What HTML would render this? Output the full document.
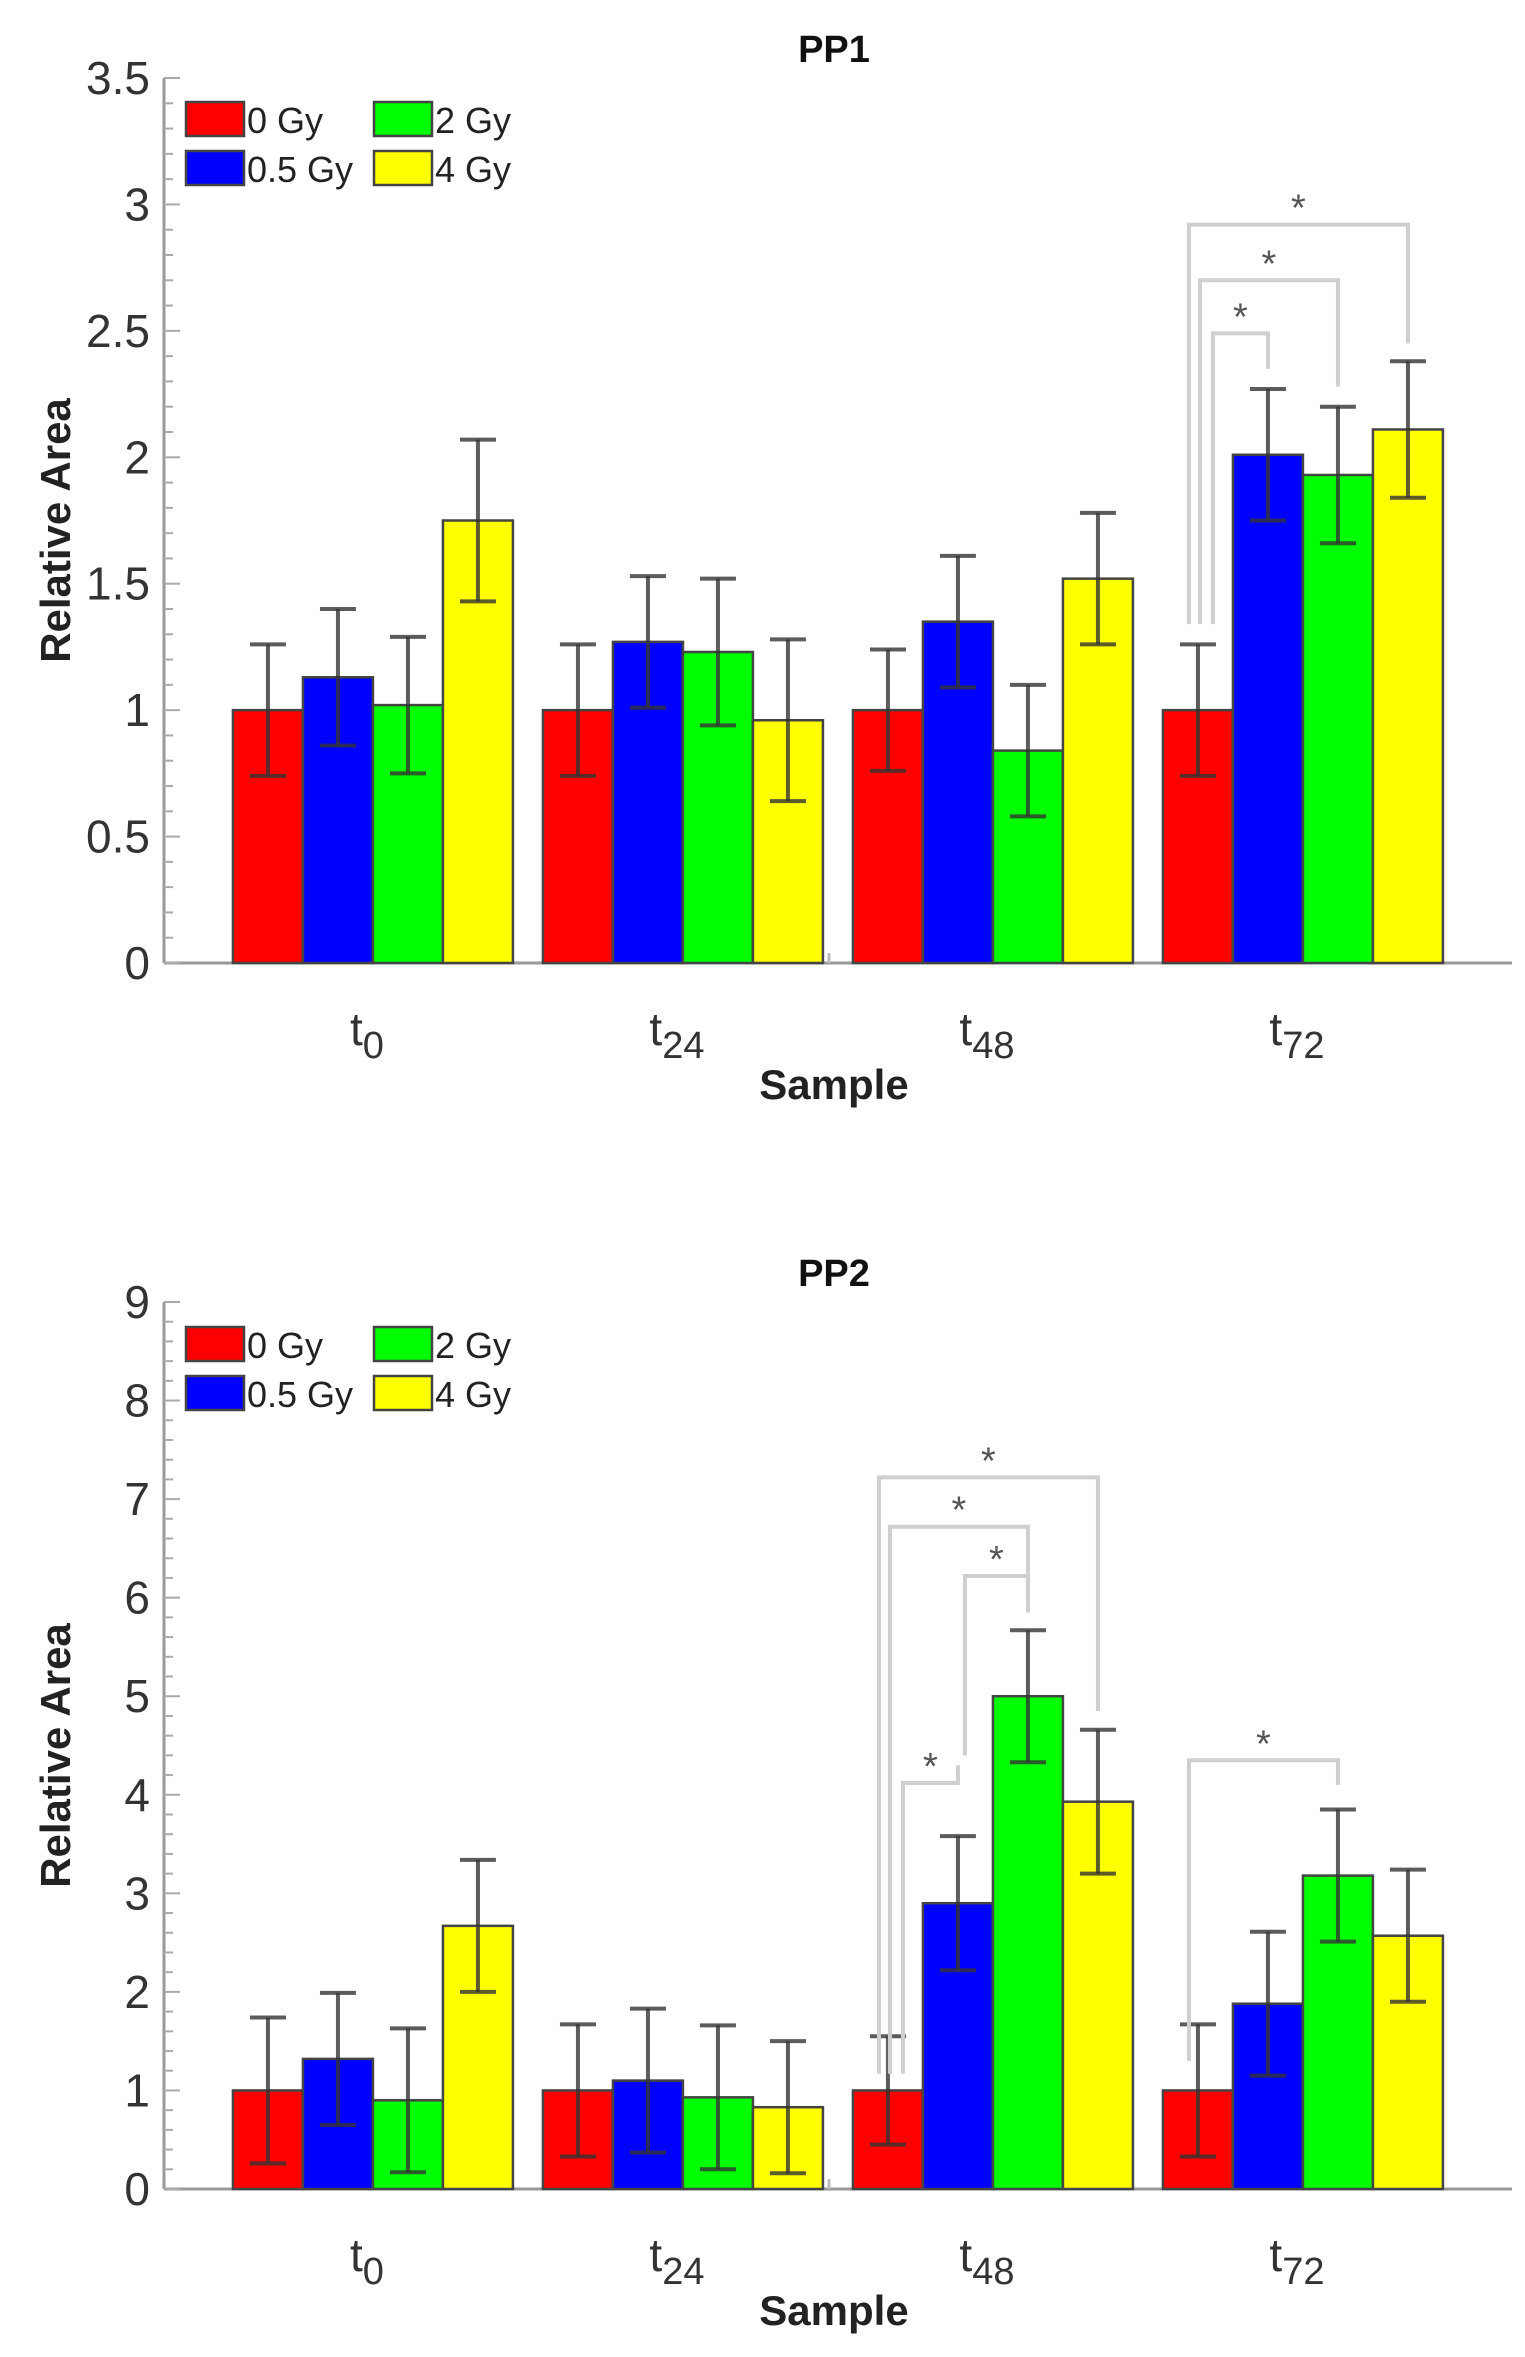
<!DOCTYPE html>
<html><head><meta charset="utf-8"><style>
html,body{margin:0;padding:0;background:#fff;}
svg{display:block;font-family:"Liberation Sans",Arial,sans-serif;}
</style></head><body>
<svg id="chart" width="1525" height="2357" viewBox="0 0 1525 2357" xmlns="http://www.w3.org/2000/svg"></svg>
<script>
const categories = ["0", "24", "48", "72"];
const seriesNames = ["0 Gy", "0.5 Gy", "2 Gy", "4 Gy"];
const seriesColors = ["#ff0000", "#0000ff", "#00ff00", "#ffff00"];
// PP1 values per series (t0,t24,t48,t72)
const pp1_0Gy = [1.0, 1.0, 1.0, 1.0];
const pp1_05Gy = [1.13, 1.27, 1.35, 2.01];
const pp1_2Gy = [1.02, 1.23, 0.84, 1.93];
const pp1_4Gy = [1.75, 0.96, 1.52, 2.11];
const pp1_err0 = [0.26, 0.26, 0.24, 0.26];
const pp1_err05 = [0.27, 0.26, 0.26, 0.26];
const pp1_err2 = [0.27, 0.29, 0.26, 0.27];
const pp1_err4 = [0.32, 0.32, 0.26, 0.27];
const pp1_ticks = ["0", "0.5", "1", "1.5", "2", "2.5", "3", "3.5"];
// PP2
const pp2_0Gy = [1.0, 1.0, 1.0, 1.0];
const pp2_05Gy = [1.32, 1.1, 2.9, 1.88];
const pp2_2Gy = [0.9, 0.93, 5.0, 3.18];
const pp2_4Gy = [2.67, 0.83, 3.93, 2.57];
const pp2_err0 = [0.74, 0.67, 0.55, 0.67];
const pp2_err05 = [0.67, 0.73, 0.68, 0.73];
const pp2_err2 = [0.73, 0.73, 0.67, 0.67];
const pp2_err4 = [0.67, 0.67, 0.73, 0.67];
const pp2_ticks = ["0", "1", "2", "3", "4", "5", "6", "7", "8", "9"];
// significance brackets: [group, fromSeries, toSeries, level, leftBottom, rightBottom]
const pp1_sig = [[4,0,1,2.49,1.34,2.35],[4,0,2,2.70,1.34,2.28],[4,0,3,2.92,1.34,2.45]];
const pp2_sig = [[3,0,1,4.12,1.17,4.3],[3,1,2,6.22,4.4,5.98],[3,0,2,6.72,1.17,5.85],[3,0,3,7.22,1.17,4.85],[4,0,2,4.35,1.3,4.1]];

const NS="http://www.w3.org/2000/svg";
const svg=document.getElementById('chart');
function mk(tag,attrs,parent){const e=document.createElementNS(NS,tag);for(const k in attrs)e.setAttribute(k,attrs[k]);(parent||svg).appendChild(e);return e;}

function drawPanel(cfg){
  const g=mk('g',{});
  
  
  const x0=164,x1=1512,groupW=310;
  const xScale=v=>x0+(v-1+0.674)*groupW;
  const yScale=v=>cfg.base-(v/cfg.ymax)*(cfg.base-cfg.top);
  const bw=70;
  const ax=mk('line',{x1:x0,y1:cfg.top,x2:x0,y2:cfg.base,stroke:'#999','stroke-width':3},g);
  
  const bx=mk('line',{x1:x0,y1:cfg.base,x2:x1,y2:cfg.base,stroke:'#999','stroke-width':3},g);
  
  const nMinor=cfg.minor;
  for(let i=0;i<=cfg.ymax*nMinor+0.001;i++){
    const v=i/nMinor, y=yScale(v);
    const major=Math.abs(v/cfg.tickStep-Math.round(v/cfg.tickStep))<1e-6;
    mk('line',{x1:x0,y1:y,x2:x0+(major?16:9),y2:y,stroke:'#aaa','stroke-width':2},g);
  }
  cfg.ticks.forEach((t,i)=>{
    const tl=mk('text',{x:150,y:yScale(i*cfg.tickStep)+16,'text-anchor':'end','font-size':46,fill:'#333'},g);
    tl.textContent=t;
    
  });
  mk('line',{x1:829,y1:cfg.base-10,x2:829,y2:cfg.base,stroke:'#bbb','stroke-width':3},g);
  cfg.values.forEach((vals,s)=>{
    vals.forEach((v,gi)=>{
      const cx=xScale(gi+1)+(s-1.5)*bw;
      const r=mk('rect',{x:cx-bw/2,y:yScale(v),width:bw,height:cfg.base-yScale(v),fill:seriesColors[s],stroke:'#444','stroke-width':2.5},g);
      
      
    });
  });
  cfg.values.forEach((vals,s)=>{
    vals.forEach((v,gi)=>{
      const cx=xScale(gi+1)+(s-1.5)*bw, e=cfg.errs[s][gi];
      const eb=mk('g',{stroke:'#333','stroke-opacity':0.8,'stroke-width':4},g);
      
      mk('line',{x1:cx,y1:yScale(v-e),x2:cx,y2:yScale(v+e)},eb);
      mk('line',{x1:cx-18,y1:yScale(v-e),x2:cx+18,y2:yScale(v-e)},eb);
      mk('line',{x1:cx-18,y1:yScale(v+e),x2:cx+18,y2:yScale(v+e)},eb);
    });
  });
  const leftOff=[-9,2,15];
  cfg.sig.forEach((b)=>{
    const [grp,fs,ts,lvl,lb,rb]=b;
    const same=cfg.sig.filter(o=>o[0]===grp&&o[1]===fs);
    const rank=same.indexOf(b);
    const off=fs===0?leftOff[same.length-1-rank]:7;
    const lx=xScale(grp)+(fs-1.5)*bw+off;
    const rx=xScale(grp)+(ts-1.5)*bw;
    const y=yScale(lvl);
    const br=mk('polyline',{points:`${lx},${yScale(lb)} ${lx},${y} ${rx},${y} ${rx},${yScale(rb)}`,fill:'none',stroke:'#cfcfcf','stroke-width':4},g);
    
    const st=mk('text',{x:(lx+rx)/2,y:y-4,'text-anchor':'middle','font-size':38,fill:'#555'},g);
    st.textContent='*';
    
  });
  categories.forEach((c,i)=>{
    const t=mk('text',{x:xScale(i+1)-6,y:cfg.base+82,'text-anchor':'middle','font-size':46,fill:'#333'},g);
    
    t.textContent='t';
    const sb=mk('tspan',{dy:13,'font-size':38},t);sb.textContent=c;
  });
  const xl=mk('text',{x:834,y:cfg.base+136,'text-anchor':'middle','font-size':42,'font-weight':'bold',fill:'#222'},g);
  xl.textContent='Sample';
  const yc=(cfg.base+cfg.top)/2+10;
  const yl=mk('text',{x:70,y:yc,'text-anchor':'middle','font-size':42,'font-weight':'bold',fill:'#222',transform:`rotate(-90 70 ${yc})`},g);
  yl.textContent='Relative Area';
  const tt=mk('text',{x:834,y:cfg.top-16,'text-anchor':'middle','font-size':38,'font-weight':'bold',fill:'#111'},g);
  tt.textContent=cfg.title;
  const lg=mk('g',{},g);
  
  const pos=[[186,0],[186,1],[374,0],[374,1]];
  seriesNames.forEach((n,s)=>{
    const [lx,row]=pos[s];
    const ly=cfg.legendTop+row*49;
    const le=mk('g',{},lg);
    
    mk('rect',{x:lx,y:ly,width:58,height:34,fill:seriesColors[s],stroke:'#444','stroke-width':2.5},le);
    const t=mk('text',{x:lx+61,y:ly+31,'font-size':36,fill:'#222'},le);t.textContent=n;
  });
}
drawPanel({name:'pp1-panel',title:'PP1',base:963,top:78,ymax:3.5,tickStep:0.5,minor:10,ticks:pp1_ticks,
  values:[pp1_0Gy,pp1_05Gy,pp1_2Gy,pp1_4Gy],errs:[pp1_err0,pp1_err05,pp1_err2,pp1_err4],sig:pp1_sig,legendTop:102});
drawPanel({name:'pp2-panel',title:'PP2',base:2189,top:1302,ymax:9,tickStep:1,minor:5,ticks:pp2_ticks,
  values:[pp2_0Gy,pp2_05Gy,pp2_2Gy,pp2_4Gy],errs:[pp2_err0,pp2_err05,pp2_err2,pp2_err4],sig:pp2_sig,legendTop:1327});
</script>
</body></html>
